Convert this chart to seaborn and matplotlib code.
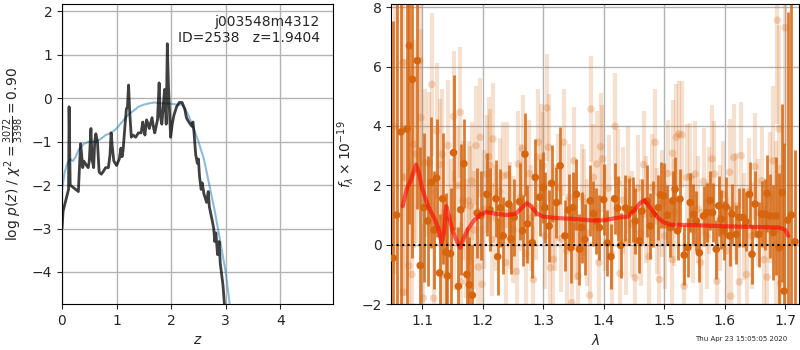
import numpy as np
import matplotlib
matplotlib.use('Agg')
import matplotlib.pyplot as plt
import seaborn as sns

# ---- redshift fit: log p(z) and chi2 curve ----
z_pz = [0.0, 0.02, 0.06, 0.10, 0.12, 0.13, 0.15, 0.20, 0.25, 0.30, 0.32, 0.34, 0.36, 0.38, 0.40,
        0.45, 0.48, 0.50, 0.52, 0.53, 0.55, 0.58, 0.60, 0.62, 0.65, 0.68, 0.72, 0.75, 0.80, 0.85,
        0.88, 0.90, 0.92, 0.95, 1.00, 1.05, 1.08, 1.10, 1.12, 1.15, 1.18, 1.20, 1.22, 1.24, 1.27,
        1.30, 1.35, 1.40, 1.45, 1.48, 1.50, 1.52, 1.55, 1.58, 1.60, 1.65, 1.68, 1.70, 1.75, 1.78,
        1.80, 1.83, 1.86, 1.88, 1.91, 1.93, 1.95, 1.97, 1.99, 2.02, 2.05, 2.10, 2.15, 2.20, 2.25,
        2.28, 2.30, 2.35, 2.38, 2.40, 2.42, 2.45, 2.48, 2.50, 2.52, 2.55, 2.57, 2.60, 2.65, 2.68,
        2.70, 2.75, 2.78, 2.80, 2.82, 2.85, 2.88, 2.90, 2.92, 2.95, 2.98]
log_pz = [-3.0, -2.6, -2.4, -2.2, -2.1, -0.2, -2.0, -2.05, -2.1, -2.15, -1.6, -1.05, -1.3, -1.6, -1.45,
          -1.55, -1.6, -1.45, -0.95, -0.7, -1.4, -1.6, -1.0, -0.82, -1.0, -1.7, -1.75, -1.7, -1.6, -1.6,
          -1.3, -0.8, -1.1, -1.45, -1.55, -1.4, -1.15, -1.35, -1.2, -0.7, -0.25, -0.2, 0.3, -0.3, -0.9,
          -0.85, -0.9, -0.8, -0.8, -0.55, -0.7, -0.85, -0.5, -0.6, -0.7, -0.45, -0.7, -0.8, -0.5, 0.35,
          -0.4, -0.6, -0.1, 0.2, -0.6, 1.25, 0.3, -0.3, -0.9, -0.6, -0.4, -0.2, -0.1, -0.1, -0.25,
          -0.45, -0.5, -0.6, -0.65, -0.55, -0.8, -1.3, -1.5, -1.4, -1.8, -2.1, -1.95, -2.2, -2.4, -2.15,
          -2.5, -2.8, -3.0, -3.3, -3.1, -3.6, -3.3, -3.8, -4.0, -4.3, -4.8]

z_chi = [0.0, 0.05, 0.10, 0.15, 0.20, 0.25, 0.30, 0.40, 0.50, 0.60, 0.70, 0.80, 0.90, 1.00, 1.10,
         1.20, 1.30, 1.40, 1.50, 1.60, 1.70, 1.80, 1.90, 2.00, 2.10, 2.20, 2.30, 2.40, 2.50, 2.60,
         2.70, 2.80, 2.90, 3.00, 3.05, 3.10]
chi_curve = [-2.1, -1.7, -1.5, -1.4, -1.45, -1.35, -1.2, -1.05, -1.0, -1.0, -0.95, -0.85, -0.8, -0.7, -0.55,
             -0.4, -0.3, -0.2, -0.15, -0.12, -0.1, -0.12, -0.12, -0.13, -0.15, -0.15, -0.35, -0.65, -1.0, -1.4,
             -2.0, -2.6, -3.3, -4.0, -4.5, -5.0]

# ---- spectrum: strong beam ----
dark_wave = [1.052, 1.058, 1.065, 1.075, 1.079, 1.084, 1.092, 1.097, 1.103, 1.109, 1.115, 1.120, 1.124, 1.129,
             1.134, 1.139, 1.142, 1.147, 1.152, 1.160, 1.164, 1.169, 1.174, 1.178, 1.183, 1.191, 1.197, 1.207,
             1.212, 1.222, 1.225, 1.229, 1.234, 1.243, 1.247, 1.252, 1.261, 1.266, 1.270, 1.274, 1.282, 1.287,
             1.294, 1.300, 1.303, 1.310, 1.314, 1.322, 1.328, 1.336, 1.342, 1.346, 1.349, 1.355, 1.360, 1.364,
             1.369, 1.378, 1.383, 1.388, 1.393, 1.400, 1.406, 1.412, 1.418, 1.423, 1.428, 1.436, 1.442, 1.448,
             1.452, 1.459, 1.463, 1.472, 1.477, 1.482, 1.490, 1.494, 1.499, 1.505, 1.510, 1.514, 1.518, 1.522,
             1.526, 1.533, 1.539, 1.543, 1.548, 1.553, 1.558, 1.565, 1.570, 1.576, 1.580, 1.586, 1.590, 1.594,
             1.598, 1.602, 1.608, 1.612, 1.619, 1.624, 1.630, 1.635, 1.641, 1.645, 1.650, 1.656, 1.661, 1.667,
             1.670, 1.675, 1.680, 1.685, 1.690, 1.695, 1.698, 1.704, 1.710, 1.716]
dark_flux = [-0.45, 1.0, 3.8, 3.9, 6.7, 5.57, 6.2, -0.7, 1.25, 0.8, 2.1, 0.5, 2.25, -0.95,
             1.55, -0.25, -1.05, -0.3, 3.1, -1.4, 1.18, 2.73, -1.0, -1.35, -1.7, 1.07, 0.98, 1.7,
             1.18, 1.55, -0.4, 1.24, 0.3, 1.37, 0.2, 0.92, 1.45, 0.47, 3.05, 0.7, 0.07, 2.27,
             1.6, 1.93, 1.25, 0.63, 2.07, 1.42, 2.66, 0.3, 1.17, -0.1, 1.25, 1.7, -0.15, 0.58,
             0.18, 1.48, 1.05, 0.8, 0.58, 1.52, 0.06, -0.4, 1.55, 1.23, -0.02, 1.24, 1.15, 1.18,
             0.8, 0.14, 1.13, 1.47, 0.63, 1.03, 1.25, 1.68, 1.65, 1.0, 0.58, 1.48, 1.87, 0.47,
             1.54, -0.35, -0.1, 1.42, 1.03, 0.8, -0.27, 0.97, 1.08, 1.48, 1.08, -0.15, 1.31, 0.86,
             0.47, 1.28, 0.3, 1.03, 0.35, 0.92, 0.92, 0.78, 1.7, -0.32, 1.37, 0.35, 1.03, 1.03,
             1.73, 0.97, 0.41, 0.97, -0.1, 1.75, -1.56, 0.83, 1.0, 0.1]
dark_err = [8.0, 9.0, 7.0, 6.0, 6.0, 6.0, 5.0, 4.0, 2.5, 2.2, 2.2, 2.0, 2.0, 2.0,
            2.2, 2.0, 2.0, 2.2, 2.6, 2.0, 2.2, 1.5, 1.6, 1.6, 1.7, 1.5, 1.5, 1.4,
            1.4, 1.3, 1.3, 1.3, 1.3, 1.3, 1.2, 1.3, 1.3, 1.2, 1.4, 1.3, 1.2, 1.3,
            1.3, 1.2, 1.2, 1.2, 1.3, 1.2, 1.3, 1.2, 1.2, 1.2, 1.2, 1.2, 1.2, 1.2,
            1.2, 1.2, 1.1, 1.1, 1.1, 1.2, 1.1, 1.1, 1.2, 1.1, 1.1, 1.1, 1.1, 1.1,
            1.1, 1.1, 1.1, 1.2, 1.1, 1.1, 1.1, 1.1, 1.1, 1.0, 1.0, 1.0, 1.1, 1.0,
            1.0, 1.0, 1.0, 1.0, 1.0, 1.0, 1.0, 1.0, 1.0, 1.0, 1.0, 1.0, 1.0, 1.0,
            1.0, 1.0, 1.0, 1.0, 1.0, 1.0, 1.0, 1.0, 1.1, 1.0, 1.1, 1.1, 1.1, 1.2,
            1.3, 1.4, 1.6, 2.0, 2.5, 3.0, 5.0, 7.0, 9.0, 3.1]

# ---- spectrum: weak beam ----
light_wave = [1.055, 1.068, 1.069, 1.072, 1.078, 1.083, 1.086, 1.090, 1.096, 1.098, 1.102, 1.105, 1.112, 1.116,
              1.119, 1.124, 1.129, 1.133, 1.135, 1.143, 1.148, 1.152, 1.153, 1.160, 1.163, 1.164, 1.167, 1.172,
              1.177, 1.179, 1.182, 1.186, 1.189, 1.193, 1.196, 1.199, 1.203, 1.207, 1.210, 1.212, 1.215, 1.217,
              1.222, 1.228, 1.234, 1.238, 1.241, 1.246, 1.251, 1.256, 1.259, 1.263, 1.266, 1.271, 1.277, 1.280,
              1.284, 1.288, 1.292, 1.296, 1.300, 1.303, 1.306, 1.309, 1.312, 1.317, 1.320, 1.325, 1.330, 1.334,
              1.339, 1.343, 1.347, 1.351, 1.355, 1.358, 1.364, 1.368, 1.373, 1.377, 1.379, 1.383, 1.389, 1.392,
              1.395, 1.398, 1.403, 1.408, 1.413, 1.419, 1.423, 1.427, 1.432, 1.437, 1.441, 1.446, 1.452, 1.456,
              1.461, 1.466, 1.470, 1.475, 1.480, 1.485, 1.488, 1.492, 1.497, 1.501, 1.506, 1.513, 1.514, 1.517,
              1.520, 1.524, 1.529, 1.533, 1.537, 1.543, 1.547, 1.551, 1.556, 1.560, 1.565, 1.570, 1.574, 1.579,
              1.583, 1.587, 1.592, 1.597, 1.603, 1.608, 1.610, 1.615, 1.619, 1.624, 1.627, 1.631, 1.636, 1.640,
              1.645, 1.650, 1.655, 1.661, 1.665, 1.670, 1.674, 1.680, 1.684, 1.687, 1.690, 1.692, 1.700]
light_flux = [4.0, 6.13, -1.6, 2.26, -0.7, -1.0, 3.38, 3.05, 6.2, 4.28, -1.8, 2.76, 2.76, 5.4,
              -1.8, 3.83, 2.7, 3.05, -1.0, 3.34, 0.9, 4.32, 0.47, 2.0, 4.46, -1.25, 1.48, 0.2,
              1.48, 1.31, 2.15, 0.5, 3.34, -0.75, 3.62, -1.33, 1.2, 2.38, 2.97, 2.66, 0.18, 3.56,
              0.9, 1.8, 2.32, -0.6, 2.35, 1.0, 0.5, -0.9, 2.72, 1.6, 3.23, -0.3, 2.4, 0.9,
              -1.17, 1.3, 3.45, 2.94, 2.66, 0.3, 4.61, 3.28, -0.77, -0.49, 0.9, 1.93, 0.2, 3.45,
              -0.2, 1.6, -1.95, 2.83, 0.6, -1.05, 1.6, 1.42, 0.4, -1.7, 4.57, 2.27, 2.72, -0.6,
              3.3, 2.89, 0.9, 1.9, -0.3, 3.99, 2.1, -0.97, 1.5, 0.1, 2.2, 0.7, -1.11, 1.9,
              0.4, 2.7, 1.2, -0.4, 1.93, 3.45, 0.8, -1.17, 1.4, 0.3, 2.4, -0.49, 3.08, 1.1,
              3.62, 3.73, 3.7, -1.39, 2.27, 2.3, 0.5, 2.38, 1.2, -0.6, 2.13, 0.3, 1.5, 2.89,
              2.38, -1.22, 0.9, 1.7, -0.2, 2.44, -1.73, 2.94, 1.3, -1.25, 3.0, 0.6, -1.0, 1.8,
              0.3, 2.63, 1.1, 2.15, -0.5, -1.09, 1.6, 2.83, 0.5, 7.56, 3.9, -1.3, 7.31]
light_err = [5.0, 4.0, 4.0, 4.0, 3.5, 3.5, 3.5, 3.0, 3.0, 3.0, 2.5, 2.5, 2.4, 2.4,
             2.2, 2.3, 2.2, 2.2, 2.2, 2.2, 2.0, 2.2, 2.0, 2.0, 2.2, 2.0, 2.0, 2.0,
             2.0, 2.0, 2.0, 2.0, 2.0, 2.0, 2.0, 2.0, 2.0, 2.0, 2.0, 1.9, 1.9, 1.9,
             1.8, 1.8, 1.8, 1.8, 1.8, 1.8, 1.8, 1.8, 1.8, 1.8, 1.8, 1.8, 1.8, 1.8,
             1.8, 1.8, 1.8, 1.8, 1.8, 1.8, 1.8, 1.8, 1.8, 1.8, 1.8, 1.8, 1.8, 1.8,
             1.8, 1.8, 1.8, 1.8, 1.8, 1.8, 1.8, 1.8, 1.8, 1.8, 1.8, 1.8, 1.8, 1.8,
             1.8, 1.8, 1.8, 1.8, 1.8, 1.8, 1.8, 1.8, 1.8, 1.8, 1.8, 1.8, 1.8, 1.8,
             1.8, 1.8, 1.8, 1.8, 1.8, 1.8, 1.8, 1.8, 1.8, 1.8, 1.8, 1.8, 1.8, 1.8,
             1.8, 1.8, 1.8, 1.8, 1.8, 1.8, 1.8, 1.8, 1.8, 1.8, 1.8, 1.8, 1.8, 1.8,
             1.8, 1.8, 1.8, 1.8, 1.8, 1.8, 1.8, 1.8, 1.8, 1.8, 1.8, 1.8, 1.8, 1.8,
             1.8, 1.8, 1.8, 1.8, 1.8, 2.0, 2.2, 2.5, 3.0, 3.5, 3.5, 4.0, 4.0]

# ---- best-fit model ----
model_wave = [1.068, 1.075, 1.082, 1.090, 1.095, 1.100, 1.110, 1.120, 1.128, 1.132, 1.136, 1.140, 1.145,
              1.150, 1.158, 1.163, 1.168, 1.175, 1.185, 1.195, 1.205, 1.220, 1.240, 1.255, 1.265, 1.273,
              1.280, 1.290, 1.300, 1.320, 1.350, 1.380, 1.400, 1.420, 1.440, 1.450, 1.460, 1.467, 1.475,
              1.490, 1.500, 1.510, 1.550, 1.600, 1.650, 1.690, 1.700, 1.705]
model_flux = [1.3, 1.9, 2.2, 2.7, 2.4, 1.9, 1.3, 0.9, 0.5, 0.05, 0.4, 1.3, 0.9,
              0.5, 0.1, -0.1, 0.2, 0.5, 0.8, 1.0, 1.1, 1.05, 1.0, 1.05, 1.25, 1.4,
              1.3, 1.05, 0.95, 0.9, 0.87, 0.82, 0.82, 0.9, 0.95, 1.15, 1.4, 1.5, 1.3,
              0.9, 0.75, 0.68, 0.66, 0.62, 0.6, 0.58, 0.5, 0.3]

sns.set_style('ticks')
plt.rcParams['font.family'] = ['DejaVu Sans']
plt.rcParams['mathtext.fontset'] = 'dejavusans'

fig = plt.figure(figsize=(8, 3.5), dpi=100)
ax1 = fig.add_axes([0.0775, 0.131, 0.339, 0.857])
ax2 = fig.add_axes([0.489, 0.131, 0.510, 0.857])

# left panel
sns.lineplot(x=z_chi, y=chi_curve, ax=ax1, color='#1f77b4', alpha=0.5, lw=1.5, sort=False, estimator=None)
sns.lineplot(x=z_pz, y=log_pz, ax=ax1, color='k', alpha=0.75, lw=2, sort=False, estimator=None)
ax1.set_xlim(0, 4.97)
ax1.set_ylim(-4.74, 2.16)
ax1.set_xticks([0, 1, 2, 3, 4])
ax1.set_yticks([-4, -3, -2, -1, 0, 1, 2])
ax1.grid(True, color='0.7', lw=1)
ax1.set_xlabel(r'$z$', fontsize=10)
ax1.set_ylabel(r'log $p(z)$ / $\chi^2=\frac{3072}{3398}=0.90$', fontsize=10)
ax1.text(0.95, 0.965, 'j003548m4312\nID=2538   z=1.9404', transform=ax1.transAxes,
         ha='right', va='top', fontsize=10, linespacing=1.2)

# right panel
orange = '#d5650f'
ax2.vlines(light_wave, np.array(light_flux) - np.array(light_err), np.array(light_flux) + np.array(light_err),
           color=orange, alpha=0.2, lw=3, zorder=1)
sns.scatterplot(x=light_wave, y=light_flux, ax=ax2, color=orange, alpha=0.25, s=30, edgecolor='none', zorder=1)
ax2.vlines(dark_wave, np.array(dark_flux) - np.array(dark_err), np.array(dark_flux) + np.array(dark_err),
           color=orange, alpha=0.85, lw=2, zorder=2)
sns.scatterplot(x=dark_wave, y=dark_flux, ax=ax2, color=orange, s=30, edgecolor='none', zorder=3)
sns.lineplot(x=model_wave, y=model_flux, ax=ax2, color='red', alpha=0.6, lw=3, sort=False, estimator=None, zorder=4)
ax2.axhline(0, color='k', ls=':', lw=1.5, zorder=5)
ax2.set_xlim(1.049, 1.723)
ax2.set_ylim(-2, 8.1)
ax2.set_xticks([1.1, 1.2, 1.3, 1.4, 1.5, 1.6, 1.7])
ax2.set_yticks([-2, 0, 2, 4, 6, 8])
ax2.grid(True, color='0.7', lw=1)
ax2.set_xlabel(r'$\lambda$', fontsize=10)
ax2.set_ylabel(r'$f_\lambda\times10^{-19}$', fontsize=10)

for ax in (ax1, ax2):
    ax.tick_params(labelsize=10, direction='out', length=3.5)
    for s in ax.spines.values():
        s.set_visible(True)
        s.set_color('k')

fig.text(0.984, 0.022, 'Thu Apr 23 15:05:05 2020', ha='right', va='bottom', fontsize=5)

fig.savefig('out.png', dpi=100)
